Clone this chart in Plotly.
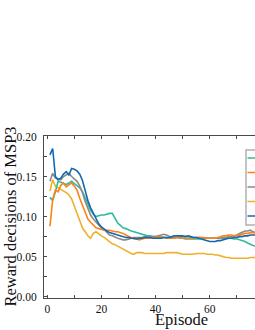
import plotly.graph_objects as go

episodes = list(range(1, 79))

blue = [0.177, 0.185, 0.150, 0.146, 0.148, 0.153, 0.156, 0.152, 0.160, 0.159,
        0.157, 0.153, 0.145, 0.132, 0.120, 0.111, 0.104, 0.097, 0.091, 0.087,
        0.084, 0.082, 0.080, 0.079, 0.078, 0.077, 0.076, 0.075, 0.074, 0.074,
        0.073, 0.073, 0.072, 0.073, 0.073, 0.074, 0.074, 0.074, 0.073, 0.073,
        0.073, 0.073, 0.074, 0.074, 0.074, 0.075, 0.076, 0.076, 0.076, 0.076,
        0.075, 0.076, 0.075, 0.074, 0.074, 0.073, 0.072, 0.071, 0.070, 0.069,
        0.069, 0.069, 0.070, 0.070, 0.071, 0.072, 0.073, 0.073, 0.074, 0.074,
        0.075, 0.075, 0.076, 0.076, 0.077, 0.077, 0.077, 0.077]

teal = [0.124, 0.120, 0.131, 0.144, 0.143, 0.141, 0.140, 0.142, 0.144, 0.141,
        0.139, 0.136, 0.131, 0.123, 0.115, 0.108, 0.103, 0.100, 0.101, 0.102,
        0.102, 0.103, 0.104, 0.104, 0.098, 0.092, 0.089, 0.086, 0.085, 0.083,
        0.082, 0.081, 0.080, 0.079, 0.078, 0.077, 0.076, 0.076, 0.075, 0.075,
        0.074, 0.074, 0.074, 0.073, 0.073, 0.073, 0.074, 0.074, 0.073, 0.073,
        0.072, 0.072, 0.072, 0.072, 0.072, 0.072, 0.073, 0.073, 0.073, 0.073,
        0.073, 0.073, 0.073, 0.073, 0.073, 0.073, 0.073, 0.073, 0.072, 0.072,
        0.071, 0.070, 0.069, 0.067, 0.065, 0.064, 0.063, 0.063]

orange = [0.088, 0.121, 0.133, 0.131, 0.139, 0.142, 0.137, 0.140, 0.142, 0.138,
          0.133, 0.123, 0.114, 0.104, 0.097, 0.093, 0.090, 0.086, 0.085, 0.084,
          0.083, 0.083, 0.083, 0.082, 0.081, 0.081, 0.080, 0.079, 0.077, 0.075,
          0.073, 0.072, 0.072, 0.071, 0.072, 0.073, 0.073, 0.073, 0.074, 0.074,
          0.075, 0.075, 0.074, 0.074, 0.073, 0.073, 0.073, 0.074, 0.074, 0.073,
          0.073, 0.073, 0.073, 0.073, 0.074, 0.074, 0.074, 0.074, 0.073, 0.073,
          0.073, 0.073, 0.074, 0.075, 0.076, 0.076, 0.077, 0.077, 0.076, 0.076,
          0.077, 0.078, 0.079, 0.079, 0.080, 0.080, 0.080, 0.080]

grey = [0.144, 0.154, 0.148, 0.147, 0.146, 0.150, 0.152, 0.154, 0.150, 0.147,
        0.144, 0.138, 0.130, 0.119, 0.110, 0.102, 0.097, 0.093, 0.089, 0.086,
        0.084, 0.080, 0.077, 0.076, 0.074, 0.073, 0.072, 0.071, 0.071, 0.072,
        0.073, 0.074, 0.074, 0.074, 0.074, 0.075, 0.075, 0.075, 0.075, 0.075,
        0.076, 0.077, 0.078, 0.077, 0.075, 0.074, 0.074, 0.074, 0.075, 0.075,
        0.075, 0.075, 0.074, 0.074, 0.074, 0.074, 0.074, 0.073, 0.073, 0.073,
        0.073, 0.073, 0.073, 0.073, 0.074, 0.074, 0.075, 0.075, 0.076, 0.077,
        0.079, 0.081, 0.082, 0.082, 0.083, 0.081, 0.080, 0.079]

yellow = [0.132, 0.146, 0.138, 0.136, 0.135, 0.133, 0.130, 0.127, 0.122, 0.113,
          0.104, 0.094, 0.086, 0.081, 0.076, 0.073, 0.079, 0.081, 0.078, 0.076,
          0.074, 0.071, 0.068, 0.066, 0.065, 0.063, 0.061, 0.059, 0.057, 0.055,
          0.054, 0.053, 0.055, 0.055, 0.055, 0.054, 0.054, 0.054, 0.054, 0.054,
          0.054, 0.054, 0.054, 0.055, 0.055, 0.055, 0.055, 0.055, 0.054, 0.053,
          0.053, 0.053, 0.053, 0.053, 0.054, 0.054, 0.054, 0.054, 0.053, 0.053,
          0.053, 0.052, 0.052, 0.051, 0.050, 0.049, 0.049, 0.048, 0.048, 0.048,
          0.048, 0.048, 0.048, 0.048, 0.049, 0.049, 0.049, 0.049]

series_names = ["Series 1", "Series 2", "Series 3", "Series 4", "Series 5"]
series_values = [teal, orange, grey, yellow, blue]
series_colors = ["#2fbb9f", "#ff8213", "#8a8a8a", "#efb02c", "#1468b0"]

y_title = "Reward decisions of MSP3"
x_title = "Episode"

FONT = "Liberation Serif, Times New Roman, serif"
W, H = 255, 330
ML, MT = 44, 136
MB = H - 298
PW = W - ML
PH = H - MT - MB

def px_x(p):
    return (p - ML) / PW

def px_y(p):
    return (H - MB - p) / PH

fig = go.Figure()
order = [3, 0, 2, 1, 4]
for i in order:
    fig.add_trace(go.Scatter(
        x=episodes, y=series_values[i], mode="lines", name=series_names[i],
        line=dict(color=series_colors[i], width=1.6), showlegend=False,
    ))

axis_common = dict(
    showline=True, linecolor="#4a4a4a", linewidth=1,
    ticks="inside", ticklen=3, tickcolor="#4a4a4a", tickwidth=1,
    showgrid=False, zeroline=False,
    tickfont=dict(family=FONT, size=11.5, color="#111"),
)

fig.update_layout(
    width=W, height=H,
    margin=dict(l=ML, r=0, t=MT, b=MB, autoexpand=False),
    paper_bgcolor="white", plot_bgcolor="white",
    showlegend=False,
    font=dict(family=FONT),
    xaxis=dict(range=[-1.2, 76.7], dtick=20, tick0=0,
               minor=dict(dtick=10, ticks="inside", ticklen=3, tickcolor="#4a4a4a"),
               ticklabelstandoff=0, **axis_common),
    xaxis2=dict(overlaying="x", matches="x", side="top", anchor="y",
                range=[-1.2, 76.7], dtick=20, tick0=0, showticklabels=False,
                minor=dict(dtick=10, ticks="inside", ticklen=3, tickcolor="#4a4a4a"),
                **axis_common),
    yaxis=dict(range=[-0.0016, 0.2006], dtick=0.05, tick0=0, tickformat=".2f",
               minor=dict(dtick=0.025, ticks="inside", ticklen=3, tickcolor="#4a4a4a"),
               ticklabelstandoff=4, **axis_common),
)

fig.add_trace(go.Scatter(x=[episodes[0]], y=[None], xaxis="x2", showlegend=False,
                         hoverinfo="skip"))

fig.add_annotation(text=y_title, xref="paper", yref="paper",
                   x=px_x(9.5), y=px_y(217), xanchor="center", yanchor="middle",
                   textangle=-90, showarrow=False,
                   font=dict(family=FONT, size=16.5, color="#111"))
fig.add_annotation(text=x_title, xref="paper", yref="paper",
                   x=px_x(181.5), y=px_y(319.5), xanchor="center", yanchor="middle",
                   showarrow=False,
                   font=dict(family=FONT, size=16.5, color="#111"))

fig.add_shape(type="rect", xref="paper", yref="paper",
              x0=px_x(246), x1=px_x(330), y0=px_y(225), y1=px_y(150),
              line=dict(color="#b0b0b0", width=1.5), fillcolor="white", layer="above")
legend_rows = [158, 172.5, 187, 201.5, 216]
for row, color in zip(legend_rows, series_colors):
    fig.add_shape(type="line", xref="paper", yref="paper",
                  x0=px_x(247.5), x1=px_x(300), y0=px_y(row), y1=px_y(row),
                  line=dict(color=color, width=1.6), layer="above")

fig.write_html(
    "out.html",
    config={"displayModeBar": False},
    post_script=(
        "document.body.style.margin='0';"
        "document.body.style.overflow='hidden';"
        "document.documentElement.style.overflow='hidden';"
    ),
)
